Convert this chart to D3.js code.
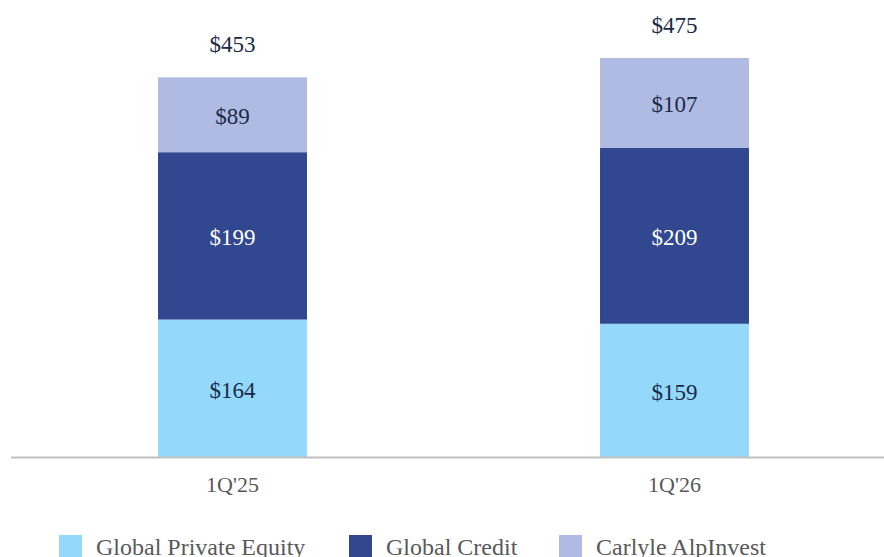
<!DOCTYPE html>
<html><head><meta charset="utf-8">
<script src="https://cdn.jsdelivr.net/npm/d3@7"></script>
<style>body{margin:0;background:#fff}svg{display:block}</style>
</head><body>
<script>
const categories = ["1Q'25", "1Q'26"];
const seriesNames = ["Global Private Equity", "Global Credit", "Carlyle AlpInvest"];
const globalPrivateEquity = [164, 159];
const globalCredit = [199, 209];
const carlyleAlpInvest = [89, 107];
const totals = [453, 475];
const colors = ["#94D9FC", "#31478F", "#B0BBE3"];
const labelColors = ["#1B2A47", "#FFFFFF", "#1B2A47"];

const W = 884, H = 557;
const svg = d3.select("body").append("svg").attr("width", W).attr("height", H);
const font = "'Liberation Serif', 'Times New Roman', serif";

const x = d3.scaleBand().domain(categories).range([11.5, 895.5]).paddingInner(0.663).paddingOuter(0.3315);
const y = d3.scaleLinear().domain([0, 475]).range([457.5, 58]);

const table = categories.map((c, i) => ({cat: c, gpe: globalPrivateEquity[i], gc: globalCredit[i], ca: carlyleAlpInvest[i]}));
const stack = d3.stack().keys(["gpe", "gc", "ca"])(table);

stack.forEach((layer, li) => {
  const g = svg.append("g");
  g.selectAll("rect").data(layer).join("rect")
    .attr("x", d => x(d.data.cat))
    .attr("width", x.bandwidth())
    .attr("y", d => y(d[1]))
    .attr("height", d => y(d[0]) - y(d[1]))
    .attr("fill", colors[li]);
  g.selectAll("text").data(layer).join("text")
    .attr("x", d => x(d.data.cat) + x.bandwidth() / 2)
    .attr("y", d => (y(d[0]) + y(d[1])) / 2 + 1)
    .attr("dy", "0.35em")
    .attr("text-anchor", "middle")
    .attr("font-family", font)
    .attr("font-size", 23)
    .attr("fill", labelColors[li])
    .text(d => "$" + (d[1] - d[0]));
});

// totals
svg.append("g").selectAll("text").data(categories).join("text")
  .attr("x", c => x(c) + x.bandwidth() / 2)
  .attr("y", (c, i) => y(totals[i]) - 33)
  .attr("dy", "0.35em")
  .attr("text-anchor", "middle")
  .attr("font-family", font)
  .attr("font-size", 23)
  .attr("fill", "#1B2A47")
  .text((c, i) => "$" + totals[i]);

// axis
const axis = svg.append("g").attr("transform", `translate(0,${y(0)})`)
  .call(d3.axisBottom(x).tickSize(0).tickPadding(19));
axis.select(".domain").attr("d", "M11,0H884").attr("stroke", "#BFBFBF").attr("stroke-width", 2);
axis.selectAll("text").attr("font-family", font).attr("font-size", 22).attr("fill", "#595959");

// legend
const legendX = [59, 349, 559];
const lg = svg.append("g");
seriesNames.forEach((n, i) => {
  lg.append("rect").attr("x", legendX[i]).attr("y", 535).attr("width", 23).attr("height", 23).attr("fill", colors[i]);
  lg.append("text").attr("x", legendX[i] + 37).attr("y", 547).attr("dy", "0.35em")
    .attr("font-family", font).attr("font-size", 24).attr("fill", "#595959").text(n);
});
</script>
</body></html>
